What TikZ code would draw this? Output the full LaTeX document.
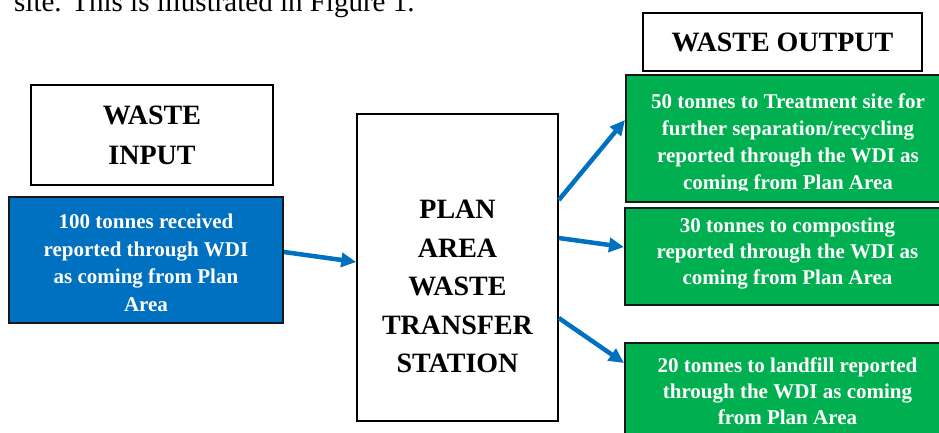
\documentclass[tikz,border=0pt]{standalone}
\usepackage{fontspec}
\setmainfont{Liberation Serif}
\usepackage{tikz}
\usetikzlibrary{arrows.meta,positioning,calc}

\definecolor{wdiblue}{HTML}{0070C0}
\definecolor{wdigreen}{HTML}{00B050}

\begin{document}
\begin{tikzpicture}[x=1pt,y=-1pt]

\tikzset{
  titlebox/.style={draw=black, line width=1.6pt, fill=white,
                  font=\fontsize{28}{40}\selectfont\bfseries, align=center, inner sep=0pt},
  stationbox/.style={draw=black, line width=1.6pt, fill=white,
                  minimum width=201pt, minimum height=307pt, inner sep=0pt},
  bigtext/.style={font=\fontsize{28}{38.5}\selectfont\bfseries, align=center, inner sep=0pt},
  inbox/.style={draw=black!90, line width=2pt, fill=wdiblue,
                  minimum width=274pt, minimum height=126pt, inner sep=0pt},
  outbox/.style={draw=black!90, line width=2pt, fill=wdigreen,
                  minimum width=325pt, minimum height=97pt, inner sep=0pt},
  boxtext/.style={text=white, font=\fontsize{21}{26}\selectfont\bfseries,
                  align=center, inner sep=0pt},
  flow/.style={draw=wdiblue, line width=4.5pt,
                  -{Triangle[length=15pt, width=14pt]}}
}

\useasboundingbox (0,0) rectangle (939,432);

% Line of body text cut by the top edge
\node[anchor=base west, inner sep=0pt, font=\fontsize{29}{34}\selectfont] (bodyline) at (14,11)
  {site. This is illustrated in Figure 1.};

% Input side
\node[titlebox, minimum width=242pt, minimum height=100pt] (intitle) at (152,135) {WASTE\\INPUT};
\node[inbox] (input) at (146,260) {};
\node[boxtext, font=\fontsize{21}{27.5}\selectfont\bfseries] (inputtext) at ([yshift=-3pt]input.center)
  {100 tonnes received\\reported through WDI\\as coming from Plan\\Area};

% Transfer station
\node[stationbox] (station) at (457.5,267.5) {};
\node[bigtext] (stationtext) at ([yshift=-19pt]station.center)
  {PLAN\\AREA\\WASTE\\TRANSFER\\STATION};

% Output side
\node[titlebox, minimum width=279pt, minimum height=58pt] (outtitle) at (782.5,42) {WASTE OUTPUT};

\node[outbox, minimum width=324pt, minimum height=127pt] (treat) at (788,138.5) {};
\begin{scope}
  \clip (treat.north west) rectangle ([yshift=13pt]treat.south east);
  \node[boxtext, font=\fontsize{21}{27}\selectfont\bfseries] (treattext) at ([yshift=-5pt]treat.center)
    {50 tonnes to Treatment site for\\further separation/recycling\\reported through the WDI as\\coming from Plan Area};
\end{scope}

\node[outbox] (compost) at (787.5,256.5) {};
\node[boxtext] (composttext) at ([yshift=3pt]compost.center)
  {30 tonnes to composting\\reported through the WDI as\\coming from Plan Area};

\node[outbox] (landfill) at (787.5,391.5) {};
\node[boxtext] (landfilltext) at (landfill.center)
  {20 tonnes to landfill reported\\through the WDI as coming\\from Plan Area};

% Flows
\draw[flow] ([yshift=8pt]input.east) -- ([yshift=5.5pt]station.west);
\draw[flow] ([yshift=67.5pt]station.east) -- ([yshift=18.5pt]treat.west);
\draw[flow] ([yshift=29.5pt]station.east) -- ([yshift=9.5pt]compost.west);
\draw[flow] ([yshift=-50.5pt]station.east) -- ([yshift=28.5pt]landfill.west);

\end{tikzpicture}
\end{document}
